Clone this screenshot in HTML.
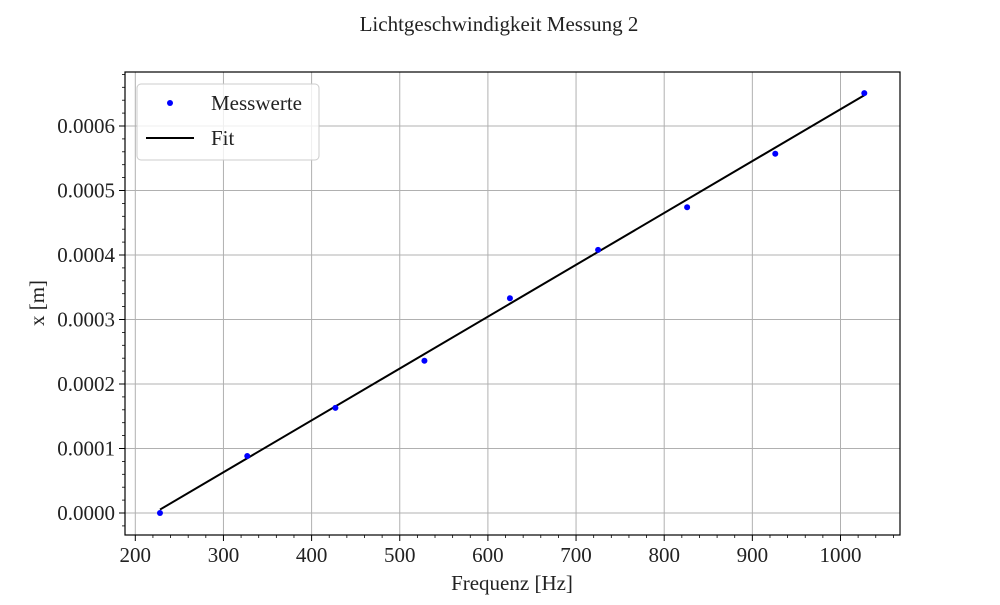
<!DOCTYPE html>
<html><head><meta charset="utf-8"><style>
body{margin:0;background:#fff}
svg text{font-family:"Liberation Serif","DejaVu Serif",serif;fill:#222}
</style></head><body>
<svg id="chart" width="1000" height="600" xmlns="http://www.w3.org/2000/svg">
<text x="499" y="31" font-size="21" text-anchor="middle">Lichtgeschwindigkeit Messung 2</text>
<g id="grid"></g>
<g id="axes"></g>
<g id="marks"></g>
<rect x="125" y="72" width="775" height="463" fill="none" stroke="#000" stroke-width="1.2"/>
<text x="512" y="590" font-size="21" text-anchor="middle">Frequenz [Hz]</text>
<text transform="translate(44,303) rotate(-90)" font-size="21" text-anchor="middle">x [m]</text>
<g>
<rect x="137" y="84" width="182" height="76" rx="4" fill="#fff" fill-opacity="0.8" stroke="#ccc"/>
<circle cx="170" cy="103" r="3" fill="#0000ff"/>
<text x="211" y="110" font-size="21">Messwerte</text>
<line x1="146" y1="138" x2="194" y2="138" stroke="#000" stroke-width="2"/>
<text x="211" y="145" font-size="21">Fit</text>
</g>
</svg>
<script>
const freqs=[228,327,427,528,625,725,826,926,1027];
const dists=[0.0000,0.0000884,0.000163,0.000236,0.000333,0.000408,0.000474,0.000557,0.000651];
const fitSlope=8.04e-7;
const fitIntercept=-0.000178;
const xTicks=[200,300,400,500,600,700,800,900,1000];
const yTicks=[0,0.0001,0.0002,0.0003,0.0004,0.0005,0.0006];
const yTickLabels=["0.0000","0.0001","0.0002","0.0003","0.0004","0.0005","0.0006"];
const NS="http://www.w3.org/2000/svg";
const X=v=>135.3+(v-200)*0.8815;
const Y=v=>513-v*645000;
function mk(tag,attrs,parent){const e=document.createElementNS(NS,tag);for(const k in attrs)e.setAttribute(k,attrs[k]);document.getElementById(parent).appendChild(e);return e;}
xTicks.forEach(t=>{
 const g=mk('line',{x1:X(t),x2:X(t),y1:72,y2:535,stroke:'#b0b0b0','stroke-width':1},'grid');
 
 
 const tk=mk('line',{x1:X(t),x2:X(t),y1:535,y2:541,stroke:'#000','stroke-width':1},'axes');
 
 
 const tx=mk('text',{x:X(t),y:562,'font-size':21,'text-anchor':'middle'},'axes');
 tx.textContent=t;
 
 
});
for(let v=180;v<=1060;v+=20){if(v%100===0)continue;if(X(v)<125||X(v)>900)continue;
 const m=mk('line',{x1:X(v),x2:X(v),y1:535,y2:538,stroke:'#000','stroke-width':0.8},'axes');
 
 }
yTicks.forEach((t,i)=>{
 const g=mk('line',{x1:125,x2:900,y1:Y(t),y2:Y(t),stroke:'#b0b0b0','stroke-width':1},'grid');
 
 
 const tk=mk('line',{x1:119,x2:125,y1:Y(t),y2:Y(t),stroke:'#000','stroke-width':1},'axes');
 
 
 const tx=mk('text',{x:115,y:Y(t)+7,'font-size':21,'text-anchor':'end'},'axes');
 tx.textContent=yTickLabels[i];
 
 
});
for(let k=-1;k<=34;k++){const v=k*0.00002;if(k%5===0)continue;if(Y(v)<72||Y(v)>535)continue;
 const m=mk('line',{x1:122,x2:125,y1:Y(v),y2:Y(v),stroke:'#000','stroke-width':0.8},'axes');
 
 }
const f0=freqs[0],f1=freqs[freqs.length-1];
const fit=mk('line',{x1:X(f0),y1:Y(fitSlope*f0+fitIntercept),x2:X(f1),y2:Y(fitSlope*f1+fitIntercept),stroke:'#000','stroke-width':2},'marks');


freqs.forEach((f,i)=>{
 const c=mk('circle',{cx:X(f),cy:Y(dists[i]),r:3,fill:'#0000ff'},'marks');
 
 
});
</script>
</body></html>
